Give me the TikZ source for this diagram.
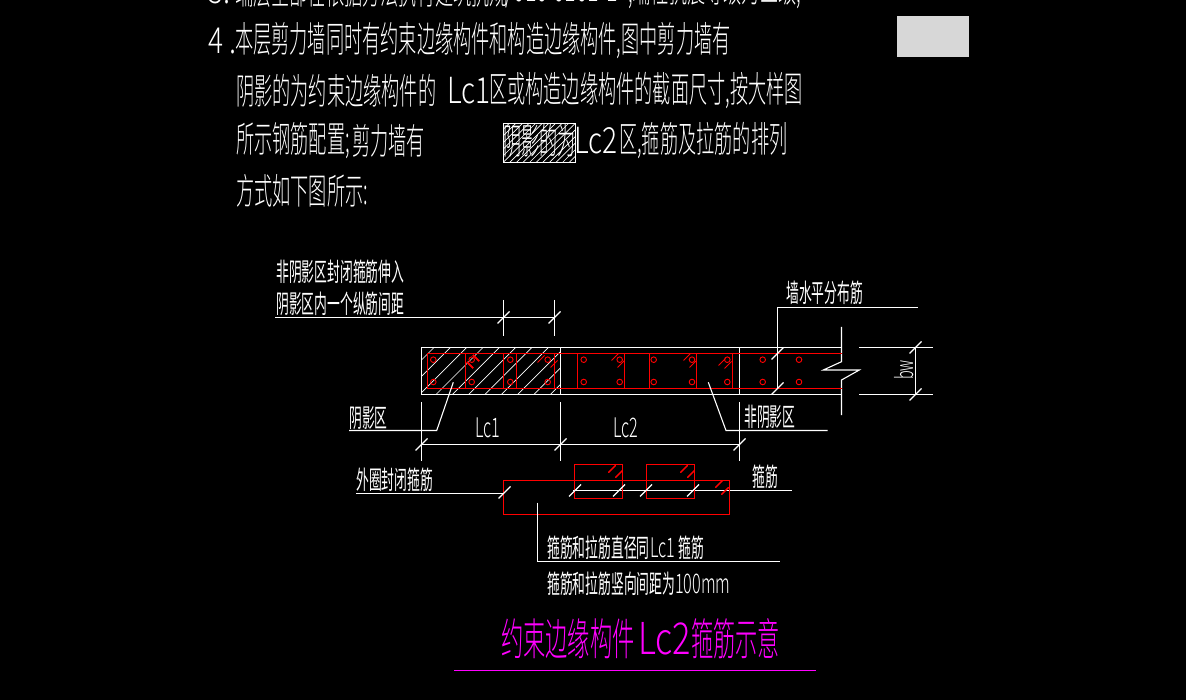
\documentclass[tikz,border=0pt]{standalone}
\usepackage{fontspec}
\newfontfamily\cjk[FakeStretch=0.505]{Noto Sans CJK SC Light}
\newfontfamily\cjksmall[FakeStretch=0.5]{Noto Sans CJK SC}
\newfontfamily\ltn[FakeStretch=0.78]{Noto Sans CJK SC Light}
\newfontfamily\ltnsmall[FakeStretch=0.6]{Noto Sans CJK SC Light}
\definecolor{cadred}{RGB}{255,0,0}
\definecolor{cadgray}{RGB}{215,215,215}
\definecolor{cadmag}{RGB}{255,0,255}
\tikzset{
  txt/.style={anchor=west,inner sep=0pt,text=white,font=\cjk\fontsize{#1}{#1}\selectfont},
  smalltxt/.style={anchor=west,inner sep=0pt,text=white,font=\cjksmall\fontsize{25.6}{26}\selectfont},
  ltntxt/.style={anchor=west,inner sep=0pt,text=white,font=\ltn\fontsize{#1}{#1}\selectfont},
  smallltn/.style={anchor=west,inner sep=0pt,text=white,font=\ltnsmall\fontsize{#1}{#1}\selectfont},
  wline/.style={draw=white,line width=1.1pt},
  rline/.style={draw=cadred,line width=1.2pt},
  thinw/.style={draw=white,line width=.7pt}
}
\newcommand\tick[1]{\draw[wline] #1 +(-6,6) -- +(6,-6);}
\newcommand\rtick[1]{\draw[rline,line width=.9pt] #1 +(-3.5,3.5) -- +(3.5,-3.5);}
\begin{document}
\begin{tikzpicture}[x=1pt,y=-1pt]
  \fill[black] (0,0) rectangle (1186,700);
  \useasboundingbox (0,0) rectangle (1186,700);
  \fill[cadgray] (897,16) rectangle (969,57);
  % text block
  \begin{scope}
    \clip (0,0) rectangle (1186,700);
    \node[ltntxt=36] (linethreea) at (208,-9) {3.};
    \node[txt=36] (linethreeb) at (235,-9) {端层全部在依据方法执行建筑抗规};
    \node[smallltn=36] (linethreec) at (505,-9) {/010 0101-1};
    \node[txt=36] (linethreed) at (628,-9) {,端柱抗震等级为三级,};
  \end{scope}
  \node[ltntxt=36] (linefoura) at (208,41) {4 .};
  \node[txt=36] (linefourb) at (235,41) {本层剪力墙同时有约束边缘构件和构造边缘构件,图中剪力墙有};
  \node[txt=36] (linefivea) at (236,91) {阴影的为约束边缘构件的};
  \node[ltntxt=36] (linefiveb) at (447,91) {Lc1};
  \node[txt=36] (linefivec) at (489,91) {区或构造边缘构件的截面尺寸,按大样图};
  \node[txt=36] (linesixa) at (236,141) {所示钢筋配置;};
  \node[txt=36] (linesixb) at (352,141) {剪力墙有};
  \node[txt=36] (linesixc) at (503,141) {阴影的为};
  \node[ltntxt=36] (linesixd) at (574,141) {Lc2};
  \node[txt=36] (linesixe) at (619,141) {区,箍筋及拉筋的排列};
  \node[txt=36] (lineseven) at (236,191) {方式如下图所示:};
  \begin{scope}
    \clip (503.5,123.5) rectangle (575.5,162.5);
    \foreach \x in {0,6.6,...,120} \draw[thinw] (503+\x,123) -- (503+\x-40,163);
  \end{scope}
  \draw[wline,line width=.9pt] (503.5,123.5) rectangle (575.5,162.5);
  % wall section
  \begin{scope}
    \clip (421.5,347.5) rectangle (560.5,394.5);
    \foreach \x in {-2,...,10} \draw[thinw] (434+16.33*\x,347.5) -- (387+16.33*\x,394.5);
  \end{scope}
  \draw[wline] (841.5,347.5) -- (421.5,347.5) -- (421.5,394.5) -- (841.5,394.5);
  \draw[wline] (560.5,347.5) -- (560.5,394.5) (739.5,347.5) -- (739.5,394.5);
  \draw[wline] (841.5,327) -- (841.5,361.7) -- (823.3,370) -- (859.3,370) -- (841.5,380) -- (841.5,415);
  \draw[rline] (841.5,353.5) -- (427.5,353.5) -- (427.5,388.5) -- (841.5,388.5);
  \foreach \x in {465.5,503.5,516.5,554.5,577.5,624.5,649.5,696.5,732.5}
    \draw[rline] (\x,353.5) -- (\x,388.5);
  \foreach \x in {433.3,471.7,510.3,547.7,583.7,619.7,653.7,692,727.3,762.7,799} {
    \draw[rline,line width=.9pt] (\x,359.7) circle (2.8);
    \draw[rline,line width=.9pt] (\x,382) circle (2.8);
  }
  \foreach \x/\y in {541/359,554/364,615/357,621/364,687/357,693/364,722/362,728/365}
    \rtick{(\x,\y)}
  \draw[rline,line width=.9pt] (467,362) -- (473,368) (473,355) -- (479,361);
  % wall bar label
  \draw[wline] (917.5,307.5) -- (777.5,307.5) -- (777.5,388.5);
  \tick{(777.5,353.5)}
  \tick{(777.5,388.5)}
  \node[smalltxt] (barlabel) at (786,293) {墙水平分布筋};
  % bw
  \draw[wline] (859,347.5) -- (932.5,347.5) (859,394.5) -- (932.5,394.5) (915.5,347.5) -- (915.5,394.5);
  \tick{(915.5,347.5)}
  \tick{(915.5,394.5)}
  \node[smallltn=24,anchor=center,rotate=90] (bw) at (904,370) {bw};
  % top dimension
  \node[smalltxt] (inlabel) at (276,272) {非阴影区封闭箍筋伸入};
  \node[smalltxt] (gaplabel) at (276,304) {阴影区内一个纵筋间距};
  \draw[wline] (275,317.5) -- (554.5,317.5) (503.5,300) -- (503.5,336.5) (554.5,300) -- (554.5,336.5);
  \tick{(503.5,317.5)}
  \tick{(554.5,317.5)}
  % lc dimension
  \foreach \x in {421.5,560.5,739.5} {
    \draw[wline] (\x,402) -- (\x,460.5);
    \tick{(\x,444.5)}
  }
  \draw[wline] (421.5,444.5) -- (739.5,444.5);
  \node[smallltn=27] (lcone) at (475,428) {Lc1};
  \node[smallltn=27] (lctwo) at (613,428) {Lc2};
  % shaded labels
  \node[smalltxt] (shade) at (349,418) {阴影区};
  \draw[wline] (349,430.5) -- (436.7,430.5) -- (453.3,382.3);
  \node[smalltxt] (noshade) at (744,417) {非阴影区};
  \draw[wline] (827.5,430.5) -- (726,430.5) -- (708.3,382.3);
  % stirrups
  \node[smalltxt] (closedhoop) at (356,480) {外圈封闭箍筋};
  \draw[wline] (573,490.5) -- (791.5,490.5);
  \draw[rline] (503.5,480.5) rectangle (729.5,514.5);
  \draw[rline] (574.5,464.5) rectangle (622.5,498.5);
  \draw[rline] (646.5,464.5) rectangle (694.5,498.5);
  \foreach \x in {575,619,646,693} \tick{(\x,490.5)}
  \foreach \x/\y in {612/469,619/474,684/469,691/474,719/484,725/491} \rtick{(\x,\y)}
  \draw[wline] (356,493.5) -- (503.5,493.5);
  \tick{(504.5,492.5)}
  \node[smalltxt] (hoop) at (752,477) {箍筋};
  \draw[wline] (537.5,502.5) -- (537.5,561.5) -- (780,561.5);
  \node[smalltxt] (samea) at (547,548) {箍筋和拉筋直径同};
  \node[smallltn=27] (sameb) at (650,548) {Lc1};
  \node[smalltxt] (samec) at (678,548) {箍筋};
  \node[smalltxt] (spacea) at (547,584) {箍筋和拉筋竖向间距为};
  \node[smallltn=27] (spaceb) at (675,584) {100mm};
  % title
  \node[txt=44,text=cadmag] (titlea) at (501,639) {约束边缘构件};
  \node[ltntxt=44,text=cadmag] (titleb) at (638,639) {Lc2};
  \node[txt=44,text=cadmag] (titlec) at (691,639) {箍筋示意};
  \draw[draw=cadmag,line width=1.2pt] (454,670.5) -- (816,670.5);
\end{tikzpicture}
\end{document}
